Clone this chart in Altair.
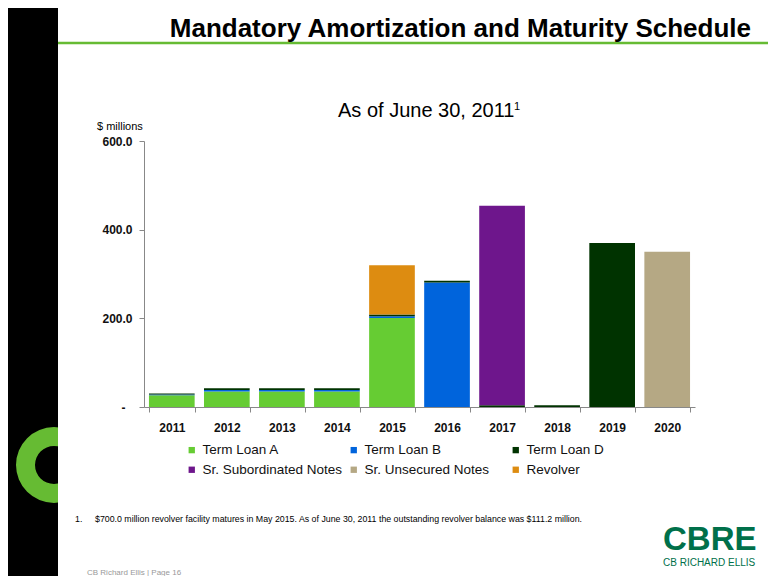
import altair as alt
import pandas as pd

# ---------------- data ----------------
years = ["2011", "2012", "2013", "2014", "2015", "2016", "2017", "2018", "2019", "2020"]
series = ["Term Loan A", "Term Loan B", "Term Loan D",
          "Sr. Subordinated Notes", "Sr. Unsecured Notes", "Revolver"]
colors = ["#66CC33", "#0064DC", "#003300", "#6E168C", "#B5A884", "#DD8C11"]

term_loan_a = [26.5, 35.0, 35.0, 35.0, 201.0, 0, 0, 0, 0, 0]
term_loan_b = [1.75, 3.5, 3.5, 3.5, 3.5, 281.0, 0, 0, 0, 0]
term_loan_d = [2.0, 4.0, 4.0, 4.0, 4.0, 4.0, 4.0, 4.0, 370.0, 0]
sr_subordinated = [0, 0, 0, 0, 0, 0, 450.0, 0, 0, 0]
sr_unsecured = [0, 0, 0, 0, 0, 0, 0, 0, 0, 350.0]
revolver = [0, 0, 0, 0, 111.2, 0, 0, 0, 0, 0]

y_ticks = [0, 200, 400, 600]

title_text = "Mandatory Amortization and Maturity Schedule"
subtitle_text = "As of June 30, 2011"
footnote_text = ("$700.0 million revolver facility matures in May 2015.  As of June 30, 2011 "
                 "the outstanding revolver balance was $111.2 million.")
footer_text = "CB Richard Ellis | Page 16"

# ---------------- table ----------------
all_series = [term_loan_a, term_loan_b, term_loan_d, sr_subordinated, sr_unsecured, revolver]
rows = []
for si, (name, vals) in enumerate(zip(series, all_series)):
    for yr, v in zip(years, vals):
        if v > 0:
            rows.append({"year": yr, "series": name, "value": v, "idx": si})
df = pd.DataFrame(rows)
one = pd.DataFrame({"a": [0]})

FONT = "Liberation Sans"

bars = alt.Chart(df).mark_bar().encode(
    x=alt.X("year:N", sort=years,
            scale=alt.Scale(paddingInner=0.17, paddingOuter=0.09),
            axis=alt.Axis(title=None, labelAngle=0, tickBand="extent", tickSize=5,
                          labelPadding=10, labelFont=FONT, labelFontSize=12,
                          labelFontWeight="bold", labelColor="#111111",
                          domainColor="#888888", tickColor="#888888", grid=False)),
    y=alt.Y("value:Q", stack="zero",
            scale=alt.Scale(domain=[0, 600], nice=False),
            axis=alt.Axis(title=None, values=y_ticks, grid=False, tickSize=5,
                          labelPadding={"condition": {"test": "datum.value == 0", "value": 14},
                                        "value": 7},
                          labelFont=FONT, labelFontSize=12,
                          labelFontWeight="bold", labelColor="#111111",
                          domainColor="#888888", tickColor="#888888",
                          labelExpr="datum.value == 0 ? '-' : format(datum.value, '.1f')")),
    color=alt.Color("series:N",
                    scale=alt.Scale(domain=series, range=colors),
                    legend=alt.Legend(title=None, orient="none", legendX=41, legendY=302,
                                      direction="horizontal",
                                      columns=3, gridAlign="all", columnPadding=4,
                                      rowPadding=5, symbolType="square", symbolSize=40,
                                      symbolStrokeWidth=0, labelFont=FONT,
                                      labelFontSize=13.5, labelColor="#111111",
                                      labelOffset=4)),
    order=alt.Order("idx:Q"),
)

def txt(text, x, y, size, weight="normal", color="#000000", font=FONT, align="left"):
    return alt.Chart(one).mark_text(
        text=text, align=align, baseline="alphabetic", font=font,
        fontSize=size, fontWeight=weight, color=color
    ).encode(x=alt.value(x), y=alt.value(y))

black_bar = alt.Chart(one).mark_rect(color="#000000").encode(
    x=alt.value(-136), x2=alt.value(-86), y=alt.value(-133), y2=alt.value(437))
green_line = alt.Chart(one).mark_rule(color="#66BB33", strokeWidth=2.5).encode(
    x=alt.value(-86), x2=alt.value(624), y=alt.value(-98))
ring = alt.Chart(one).mark_arc(radius=38, radius2=19, theta=0, theta2=6.2832,
                               color="#66BB33").encode(x=alt.value(-90), y=alt.value(324))
ring_mask = alt.Chart(one).mark_rect(color="#FFFFFF").encode(
    x=alt.value(-86), x2=alt.value(-40), y=alt.value(280), y2=alt.value(370))

layers = [
    black_bar, ring, ring_mask, green_line,
    txt(title_text, 607, -104, 26, "bold", align="right"),
    txt(subtitle_text, 194, -24, 20),
    txt("1", 370, -31, 11),
    txt("$ millions", -47, -11, 11),
    txt("1.", -69, 381, 8.8),
    txt(footnote_text, -49, 381, 8.8),
    txt(footer_text, -57, 434, 8, color="#999999"),
    txt("CBRE", 519, 409, 33, "bold", color="#00704A"),
    txt("CB RICHARD ELLIS", 519, 425, 10, color="#00704A"),
    bars,
]

chart = alt.layer(*layers).properties(
    width=551, height=266,
    padding={"left": 136, "top": 133, "right": 73, "bottom": 169},
    autosize=alt.AutoSizeParams(type="none"),
).configure_view(stroke=None)

chart.save("out.html", embed_options={"renderer": "svg", "actions": False})
